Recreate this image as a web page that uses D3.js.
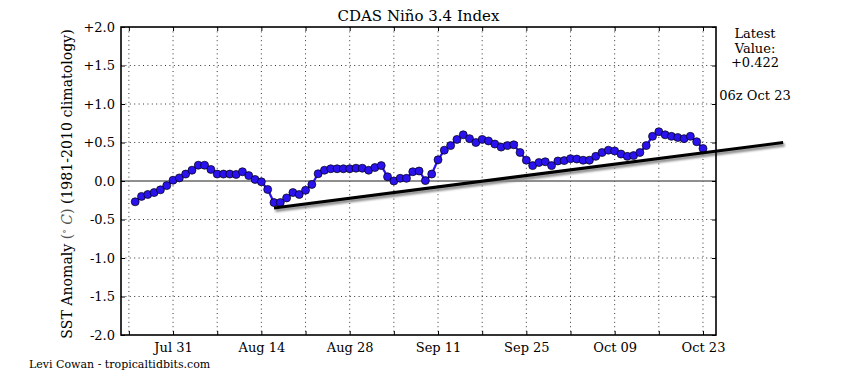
<!DOCTYPE html>
<html>
<head>
<meta charset="utf-8">
<script src="https://cdn.jsdelivr.net/npm/d3@7"></script>
<style>
  html, body { margin: 0; padding: 0; background: #fff; }
  svg { display: block; font-family: "DejaVu Serif", serif; }
</style>
</head>
<body>
<svg id="chart" width="865" height="378"></svg>
<script>
// ---------------- data ----------------
const startDate = "2014-07-25";           // first daily value
const anomalies = [
  -0.27, -0.20, -0.175, -0.15, -0.115, -0.06, 0.01, 0.04, 0.09, 0.14,
  0.205, 0.205, 0.15, 0.09, 0.09, 0.09, 0.085, 0.12, 0.07, 0.02,
  -0.01, -0.11, -0.28, -0.28, -0.22, -0.15, -0.175, -0.12, -0.045, 0.094,
  0.14, 0.159, 0.159, 0.159, 0.159, 0.166, 0.166, 0.14, 0.175, 0.20,
  0.055, 0.0, 0.035, 0.035, 0.12, 0.13, 0.005, 0.09, 0.275, 0.40,
  0.46, 0.54, 0.60, 0.55, 0.50, 0.54, 0.52, 0.48, 0.44, 0.46,
  0.47, 0.37, 0.27, 0.20, 0.24, 0.25, 0.20, 0.26, 0.265, 0.29,
  0.285, 0.27, 0.27, 0.32, 0.37, 0.40, 0.39, 0.35, 0.32, 0.33,
  0.37, 0.46, 0.58, 0.64, 0.60, 0.58, 0.565, 0.55, 0.58, 0.51,
  0.422
];
const trendDates = ["2014-08-16T00:00", "2014-11-04T17:00"];
const trendValues = [-0.35, 0.50];
const xDomain = ["2014-07-22T18:00", "2014-10-25T01:30"];
const yDomain = [-2.0, 2.0];
const xGridDates = ["2014-07-24","2014-07-31","2014-08-07","2014-08-14","2014-08-21","2014-08-28",
  "2014-09-04","2014-09-11","2014-09-18","2014-09-25","2014-10-02","2014-10-09","2014-10-16","2014-10-23"];
const xTickLabels = ["Jul 31","Aug 14","Aug 28","Sep 11","Sep 25","Oct 09","Oct 23"];
const yTickValues = [2.0, 1.5, 1.0, 0.5, 0.0, -0.5, -1.0, -1.5, -2.0];
const yTickLabels = ["+2.0","+1.5","+1.0","+0.5","0.0","-0.5","-1.0","-1.5","-2.0"];
const titleText = "CDAS Niño 3.4 Index";
const latestLines = ["Latest", "Value:", "+0.422"];
const latestTime = "06z Oct 23";
const creditText = "Levi Cowan - tropicaltidbits.com";

// ---------------- layout ----------------
const m = { left: 121, right: 716, top: 27, bottom: 335 };
const svg = d3.select("#chart");
const parse = s => new Date(s + (s.length === 10 ? "T00:00" : "") + ":00Z");

const x = d3.scaleUtc().domain(xDomain.map(parse)).range([m.left, m.right]);
const y = d3.scaleLinear().domain(yDomain).range([m.bottom, m.top]);

const start = parse(startDate);
const data = anomalies.map((v, i) => ({ date: d3.utcDay.offset(start, i), value: v }));
const gridDates = xGridDates.map(parse);
const fmt = d3.utcFormat("%b %d");
const labelFor = d => { const s = fmt(d); return xTickLabels.includes(s) ? s : ""; };

// shadow filter for trend line
const defs = svg.append("defs");
const f = defs.append("filter").attr("id", "shadow").attr("x", "-5%").attr("y", "-50%").attr("width", "110%").attr("height", "200%");
f.append("feGaussianBlur").attr("stdDeviation", 1.2);

// gridlines
const grid = svg.append("g").attr("stroke", "#000").attr("stroke-width", 0.8).attr("stroke-dasharray", "1,3.4");
grid.selectAll("line.vx").data(gridDates).join("line")
  .attr("x1", d => x(d)).attr("x2", d => x(d)).attr("y1", m.top).attr("y2", m.bottom);
grid.selectAll("line.hy").data(yTickValues.filter(v => v !== 0 && Math.abs(v) !== 2)).join("line")
  .attr("x1", m.left).attr("x2", m.right).attr("y1", d => y(d)).attr("y2", d => y(d));

// zero line
svg.append("line").attr("x1", m.left).attr("x2", m.right).attr("y1", y(0)).attr("y2", y(0))
  .attr("stroke", "#6a6a6a").attr("stroke-width", 1.3);

// data line + markers
const line = d3.line().x(d => x(d.date)).y(d => y(d.value));
svg.append("path").datum(data).attr("d", line)
  .attr("fill", "none").attr("stroke", "#2a12ee").attr("stroke-width", 2.2);
svg.append("g").selectAll("circle").data(data).join("circle")
  .attr("cx", d => x(d.date)).attr("cy", d => y(d.value)).attr("r", 4)
  .attr("fill", "#2a12ee").attr("stroke", "#000").attr("stroke-width", 0.7);

// trend line with shadow
const trend = trendDates.map((d, i) => ({ date: parse(d), value: trendValues[i] }));
svg.append("path").datum(trend).attr("d", line)
  .attr("transform", "translate(1.5,2.5)")
  .attr("fill", "none").attr("stroke", "#888").attr("stroke-width", 3.2)
  .attr("filter", "url(#shadow)");
svg.append("path").datum(trend).attr("d", line)
  .attr("fill", "none").attr("stroke", "#000").attr("stroke-width", 3);

// axes (inward ticks)
const axisStyle = g => {
  g.select(".domain").remove();
  g.selectAll(".tick line").attr("stroke", "#000").attr("stroke-width", 1);
  g.selectAll(".tick text").attr("fill", "#000").style("font-family", "DejaVu Serif").attr("font-size", 13);
};
svg.append("g").attr("transform", `translate(0,${m.bottom})`)
  .call(d3.axisBottom(x).tickValues(gridDates).tickSize(-4).tickPadding(8).tickFormat(labelFor))
  .call(axisStyle);
svg.append("g").attr("transform", `translate(0,${m.top})`)
  .call(d3.axisTop(x).tickValues(gridDates).tickSize(-4).tickFormat(""))
  .call(axisStyle);
svg.append("g").attr("transform", `translate(${m.left},0)`)
  .call(d3.axisLeft(y).tickValues(yTickValues).tickSize(-4).tickPadding(6)
    .tickFormat((d, i) => yTickLabels[i]))
  .call(axisStyle);
svg.append("g").attr("transform", `translate(${m.right},0)`)
  .call(d3.axisRight(y).tickValues(yTickValues).tickSize(-4).tickFormat(""))
  .call(axisStyle);

// frame
svg.append("rect").attr("x", m.left).attr("y", m.top)
  .attr("width", m.right - m.left).attr("height", m.bottom - m.top)
  .attr("fill", "none").attr("stroke", "#000").attr("stroke-width", 1.6);

// title
svg.append("text").attr("x", (m.left + m.right) / 2).attr("y", 21)
  .attr("text-anchor", "middle").attr("font-size", 15).text(titleText);

// y label
const yl = svg.append("text").attr("transform", `translate(72,${(m.top + m.bottom) / 2 + 3}) rotate(-90)`)
  .attr("text-anchor", "middle").attr("font-size", 14.1);
yl.append("tspan").text("SST Anomaly ");
yl.append("tspan").attr("fill", "#555").text("(");
yl.append("tspan").attr("fill", "#555").attr("font-size", 9).attr("dy", -5).text("∘");
yl.append("tspan").attr("fill", "#555").attr("font-style", "italic").attr("dy", 5).text(" C");
yl.append("tspan").attr("fill", "#555").text(")");
yl.append("tspan").text(" (1981-2010 climatology)");

// latest value block
const lv = svg.append("text").attr("text-anchor", "middle").attr("font-size", 13);
latestLines.forEach((t, i) => lv.append("tspan").attr("x", 755).attr("y", 38 + i * 14.6).text(t));
svg.append("text").attr("x", 755).attr("y", 100).attr("text-anchor", "middle")
  .attr("font-size", 13).text(latestTime);

// credit
svg.append("text").attr("x", 29).attr("y", 368).attr("font-size", 11).text(creditText);
</script>
</body>
</html>
